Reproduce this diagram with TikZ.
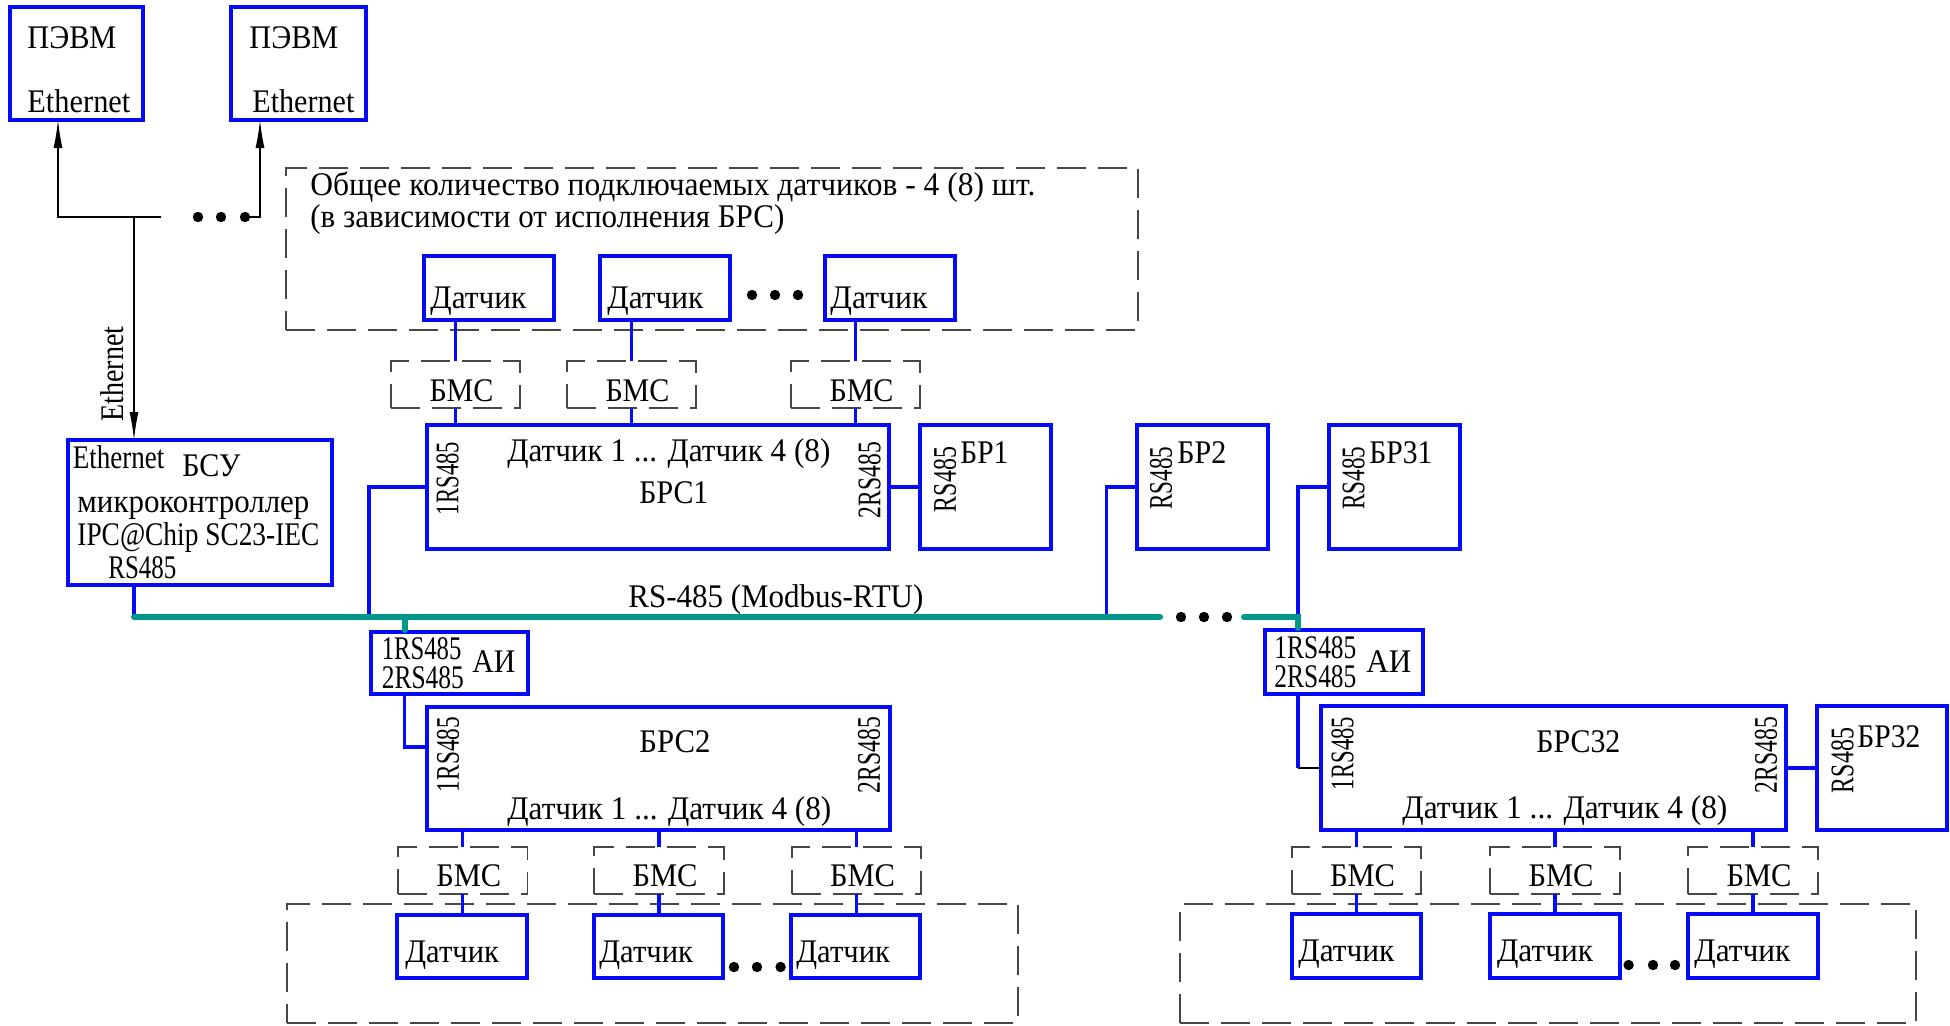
\documentclass[tikz,border=0pt]{standalone}
\usepackage{fontspec}
\usepackage{graphicx}
\setmainfont{Liberation Serif}
\usetikzlibrary{arrows.meta}
\definecolor{bblue}{RGB}{5,10,250}
\definecolor{bteal}{RGB}{0,150,140}
\definecolor{dgray}{RGB}{70,70,70}
\newcommand\dfont{\fontsize{16.5pt}{19pt}\selectfont}
\newcommand\tw[2]{\resizebox{#1pt}{\height}{#2}}
\newcommand\mkbox[6]{\node[#1, minimum width={(#5-#3)*0.5pt}, minimum height={(#6-#4)*0.5pt}] (#2) at ({(#3+#5)/2},{(#4+#6)/2}) {};}
\begin{document}
\begin{tikzpicture}[x=0.5pt,y=-0.5pt,
  box/.style={draw=bblue, line width=2pt, inner sep=0pt, outer sep=0pt},
  dbox/.style={draw=dgray, line width=0.75pt, dash pattern=on 14.5pt off 6pt, inner sep=0pt, outer sep=0pt},
  txt/.style={inner sep=0pt, anchor=base west, font=\dfont},
  ctxt/.style={inner sep=0pt, anchor=base, font=\dfont},
  rtxt/.style={inner sep=0pt, rotate=90, font=\dfont},
  conn/.style={draw=bblue, line width=1.7pt},
  bus/.style={draw=bteal, line width=3pt, line cap=round},
  arr/.style={draw=black, line width=0.7pt, -{Latex[length=14pt,width=4.5pt]}},
  dot/.style={fill=black}]
\useasboundingbox (0,0) rectangle (1950,1025);

% dashed groups
\mkbox{dbox}{topd}{286}{168}{1138}{330}
\mkbox{dbox}{botL}{287}{904}{1018}{1023}
\mkbox{dbox}{botR}{1180}{904}{1916}{1023}
\mkbox{dbox}{bA}{391}{361}{520}{408}
\mkbox{dbox}{bB}{567}{361}{696}{408}
\mkbox{dbox}{bC}{791}{361}{920}{408}
\mkbox{dbox}{bs1}{398}{847}{527.5}{894}
\mkbox{dbox}{bs2}{594}{847}{724}{894}
\mkbox{dbox}{bs3}{792}{847}{921}{894}
\mkbox{dbox}{bs4}{1292}{847}{1421}{894}
\mkbox{dbox}{bs5}{1490}{847}{1620}{894}
\mkbox{dbox}{bs6}{1688}{847}{1818}{894}

% solid boxes
\mkbox{box}{pc1}{10}{7}{143}{120}
\mkbox{box}{pc2}{231}{7}{366}{120}
\mkbox{box}{bsu}{68}{440}{332}{585}
\mkbox{box}{dA}{424}{256}{554}{320}
\mkbox{box}{dB}{600}{256}{730}{320}
\mkbox{box}{dC}{825}{256}{955}{320}
\mkbox{box}{brs1}{427}{425}{889}{549}
\mkbox{box}{br1}{920}{425}{1051}{549}
\mkbox{box}{br2}{1137}{425}{1268}{549}
\mkbox{box}{br31}{1329}{425}{1460}{549}
\mkbox{box}{ai1}{371}{632}{527.5}{694}
\mkbox{box}{ai2}{1265}{630}{1423}{694}
\mkbox{box}{brs2}{427}{707}{890}{830}
\mkbox{box}{brs32}{1321}{706}{1786}{830}
\mkbox{box}{br32}{1817}{706}{1947}{830}
\mkbox{box}{ds1}{397}{915}{527}{978}
\mkbox{box}{ds2}{594}{915}{723}{978}
\mkbox{box}{ds3}{791}{915}{920}{978}
\mkbox{box}{ds4}{1292}{914}{1421}{978}
\mkbox{box}{ds5}{1490}{914}{1620}{978}
\mkbox{box}{ds6}{1688}{914}{1818}{978}

% Ethernet wiring
\coordinate (eL) at (58,217);
\coordinate (eR) at (161,217);
\coordinate (eD) at (245,217);
\coordinate (eE) at (260,217);
\coordinate (ej) at (134,217);
\draw[arr] (eR) -- (eL) -- (eL |- pc1.south);
\draw[arr] (eD) -- (eE) -- (eE |- pc2.south);
\draw[arr] (ej) -- (ej |- bsu.north);
\fill[dot] (198,217) circle (2.6pt) (221,217) circle (2.6pt) (245,217) circle (2.6pt);
\node[rtxt] (ethv) at (112,374) {\tw{47.5}{Ethernet}};

% bus
\coordinate (b0) at (134,617);
\coordinate (bE) at (1160,617);
\coordinate (bS) at (1244,617);
\coordinate (bT) at (1298,617);
\coordinate (u1) at (369,617);
\coordinate (u2) at (1106.5,617);
\coordinate (t1) at (404.7,617);
\draw[conn] (b0 |- bsu.south) -- (b0);
\draw[conn] (u1) |- (brs1.west);
\draw[conn] (u2) |- (br2.west);
\draw[conn] (bT) |- (br31.west);
\draw[conn] (brs1.east) -- (br1.west);
\draw[conn] (t1 |- ai1.south) |- ([yshift=10.75pt]brs2.west);
\draw[conn] (bT |- ai2.south) -- (bT |- brs32.west);
\draw[black, line width=0.6pt] (bT |- brs32.west) -- (brs32.west);
\draw[conn] (brs32.east) -- (br32.west);
\draw[bus] (b0) -- (bE);
\draw[bus] (bS) -- (bT) -- ([yshift=1pt]bT |- ai2.north);
\draw[bus] (t1) -- ([yshift=1pt]t1 |- ai1.north);
\fill[dot] (1181,617) circle (2.6pt) (1204,617) circle (2.6pt) (1227,617) circle (2.6pt);

% sensor connectors
\foreach \d/\b in {dA/bA,dB/bB,dC/bC}{
  \draw[conn] (\b.north |- \d.south) -- (\b.north);
  \draw[conn] (\b.south) -- (\b.south |- brs1.north);
}
\foreach \b/\d in {bs1/ds1,bs2/ds2,bs3/ds3}{
  \draw[conn] (\b.north |- brs2.south) -- (\b.north);
  \draw[conn] (\b.south) -- (\b.south |- \d.north);
}
\foreach \b/\d in {bs4/ds4,bs5/ds5,bs6/ds6}{
  \draw[conn] (\b.north |- brs32.south) -- (\b.north);
  \draw[conn] (\b.south) -- (\b.south |- \d.north);
}
\fill[dot] (752,295) circle (2.6pt) (775,295) circle (2.6pt) (798,295) circle (2.6pt);
\fill[dot] (734,967) circle (2.6pt) (757,967) circle (2.6pt) (780.6,967) circle (2.6pt);
\fill[dot] (1628.6,965) circle (2.6pt) (1653,965) circle (2.6pt) (1675,965) circle (2.6pt);

% texts
\node[txt] (p1a) at (27,48) {\tw{44.5}{ПЭВМ}};
\node[txt] (p1b) at (27,112) {\tw{51.5}{Ethernet}};
\node[txt] (p2a) at (249,48) {\tw{44.5}{ПЭВМ}};
\node[txt] (p2b) at (252,112) {\tw{51}{Ethernet}};
\node[txt] (s1) at (72.5,468) {\tw{45.75}{Ethernet}};
\node[txt] (s2) at (182,476) {\tw{29}{БСУ}};
\node[txt] (s3) at (77,512) {\tw{116}{микроконтроллер}};
\node[txt] (s4) at (77,545) {\tw{121}{IPC@Chip SC23-IEC}};
\node[txt] (s5) at (108,578) {\tw{34}{RS485}};
\node[txt] (g1) at (310,195) {\tw{362.5}{Общее количество подключаемых датчиков - 4 (8) шт.}};
\node[txt] (g2) at (310,227) {\tw{237}{(в зависимости от исполнения БРС)}};
\node[txt] (tA) at (430,308) {\tw{48}{Датчик}};
\node[txt] (tB) at (607,308) {\tw{48}{Датчик}};
\node[txt] (tC) at (830,308) {\tw{48.5}{Датчик}};
\node[ctxt] (mA) at (461.5,401) {\tw{32}{БМС}};
\node[ctxt] (mB) at (637.5,401) {\tw{32}{БМС}};
\node[ctxt] (mC) at (861.5,401) {\tw{32}{БМС}};
\node[txt] (r1a) at (507,461) {\tw{161.5}{Датчик 1 ... Датчик 4 (8)}};
\node[txt] (r1b) at (639,503) {\tw{34.5}{БРС1}};
\node[rtxt] (r1c) at (447.5,478.5) {\tw{36.5}{1RS485}};
\node[rtxt] (r1d) at (869.5,480) {\tw{38}{2RS485}};
\node[rtxt] (q1a) at (945,479.5) {\tw{32.5}{RS485}};
\node[txt] (q1b) at (960,463) {\tw{24}{БР1}};
\node[rtxt] (q2a) at (1161,478) {\tw{31.5}{RS485}};
\node[txt] (q2b) at (1177,463) {\tw{24.5}{БР2}};
\node[rtxt] (q3a) at (1353.5,478) {\tw{31.5}{RS485}};
\node[txt] (q3b) at (1369,463) {\tw{31.5}{БР31}};
\node[txt] (busl) at (628,607) {\tw{147.5}{RS-485 (Modbus-RTU)}};
\node[txt] (a1a) at (381.5,659) {\tw{39.75}{1RS485}};
\node[txt] (a1b) at (381.5,688) {\tw{41}{2RS485}};
\node[txt] (a1c) at (472,672) {\tw{21.5}{АИ}};
\node[txt] (a2a) at (1274,658) {\tw{41}{1RS485}};
\node[txt] (a2b) at (1274,687) {\tw{41}{2RS485}};
\node[txt] (a2c) at (1366,672) {\tw{22.5}{АИ}};
\node[txt] (r2a) at (639,752) {\tw{35.5}{БРС2}};
\node[txt] (r2b) at (507,819) {\tw{162}{Датчик 1 ... Датчик 4 (8)}};
\node[rtxt] (r2c) at (448,754.5) {\tw{37.5}{1RS485}};
\node[rtxt] (r2d) at (869,755) {\tw{38}{2RS485}};
\node[txt] (r3a) at (1536,752) {\tw{42}{БРС32}};
\node[txt] (r3b) at (1402,818) {\tw{162.5}{Датчик 1 ... Датчик 4 (8)}};
\node[rtxt] (r3c) at (1342.5,753.5) {\tw{36.5}{1RS485}};
\node[rtxt] (r3d) at (1766,755) {\tw{38}{2RS485}};
\node[rtxt] (q4a) at (1842.5,760.5) {\tw{32.5}{RS485}};
\node[txt] (q4b) at (1857,747) {\tw{31.5}{БР32}};
\node[ctxt] (m1) at (468.75,886) {\tw{32.5}{БМС}};
\node[ctxt] (m2) at (665,886) {\tw{32.5}{БМС}};
\node[ctxt] (m3) at (862.5,886) {\tw{32.5}{БМС}};
\node[ctxt] (m4) at (1362.5,886) {\tw{32.5}{БМС}};
\node[ctxt] (m5) at (1561,886) {\tw{32.5}{БМС}};
\node[ctxt] (m6) at (1759,886) {\tw{32.5}{БМС}};
\node[txt] (e1) at (405,962) {\tw{46.75}{Датчик}};
\node[txt] (e2) at (599,962) {\tw{46.75}{Датчик}};
\node[txt] (e3) at (796,962) {\tw{46.75}{Датчик}};
\node[txt] (e4) at (1298,961) {\tw{48}{Датчик}};
\node[txt] (e5) at (1496.6,961) {\tw{48}{Датчик}};
\node[txt] (e6) at (1694,961) {\tw{48}{Датчик}};
\end{tikzpicture}
\end{document}
